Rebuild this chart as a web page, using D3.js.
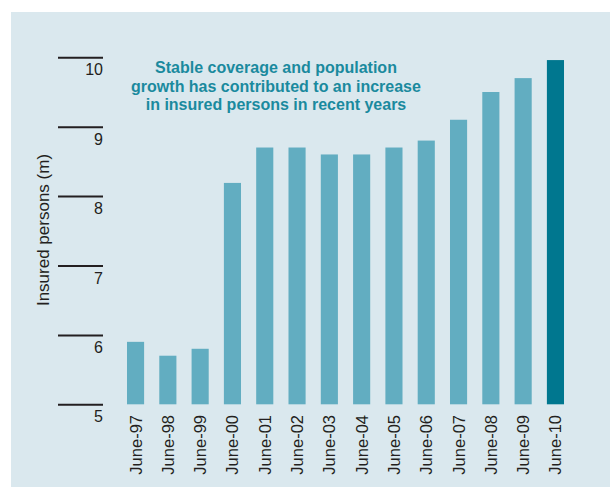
<!DOCTYPE html>
<html>
<head>
<meta charset="utf-8">
<script src="https://cdn.jsdelivr.net/npm/d3@7"></script>
<style>
  html, body { margin: 0; padding: 0; background: #ffffff; }
  svg { display: block; }
</style>
</head>
<body>
<svg id="chart" width="615" height="488"></svg>
<script>
const categories = ["June-97","June-98","June-99","June-00","June-01","June-02","June-03","June-04","June-05","June-06","June-07","June-08","June-09","June-10"];
const insuredPersons = [5.9, 5.7, 5.8, 8.19, 8.7, 8.7, 8.6, 8.6, 8.7, 8.8, 9.1, 9.5, 9.7, 9.96];
const yTicks = [5, 6, 7, 8, 9, 10];
const titleLines = ["Stable coverage and population", "growth has contributed to an increase", "in insured persons in recent years"];
const yLabel = "Insured persons (m)";

const svg = d3.select("#chart");
const font = "'Liberation Sans', Arial, Helvetica, sans-serif";

svg.append("rect").attr("x", 11).attr("y", 12).attr("width", 599).attr("height", 475).attr("fill", "#dae8ee");

const y = d3.scaleLinear().domain([5, 10]).range([404.3, 57.3]);
const x = d3.scaleBand().domain(categories).range([119.4, 571.6]).paddingInner(0.47).paddingOuter(0.235);

// bars
svg.append("g").selectAll("rect").data(categories).join("rect")
  .attr("x", d => x(d))
  .attr("width", x.bandwidth())
  .attr("y", (d, i) => y(insuredPersons[i]))
  .attr("height", (d, i) => y(5) - y(insuredPersons[i]))
  .attr("fill", (d, i) => i === categories.length - 1 ? "#00778f" : "#62adc1");

// y axis
const yAxis = svg.append("g").attr("transform", "translate(103,0)")
  .call(d3.axisLeft(y).tickValues(yTicks).tickSize(45).tickFormat(d3.format("d")));
yAxis.select(".domain").remove();
yAxis.selectAll(".tick line").attr("stroke", "#231f20").attr("stroke-width", 2);
yAxis.selectAll(".tick text")
  .attr("x", 0).attr("dy", 17.7).attr("text-anchor", "end")
  .attr("fill", "#231f20").style("font-family", font).style("font-size", "16px");

// x axis
const xAxis = svg.append("g").attr("transform", "translate(0,404.3)")
  .call(d3.axisBottom(x).tickSize(0));
xAxis.select(".domain").remove();
xAxis.selectAll(".tick text")
  .attr("transform", "rotate(-90)")
  .attr("x", -10.7).attr("y", 0).attr("dy", "0.36em")
  .attr("text-anchor", "end")
  .attr("fill", "#231f20").style("font-family", font).style("font-size", "16.5px");

// y label
svg.append("text")
  .attr("transform", "translate(48.5,230) rotate(-90)")
  .attr("text-anchor", "middle")
  .attr("fill", "#231f20").style("font-family", font).style("font-size", "17px")
  .text(yLabel);

// title
svg.append("g").selectAll("text").data(titleLines).join("text")
  .attr("x", 276).attr("y", (d, i) => 73 + i * 18.5)
  .attr("text-anchor", "middle")
  .attr("fill", "#1a8a9e").style("font-family", font).style("font-size", "16px").style("font-weight", "bold")
  .text(d => d);
</script>
</body>
</html>
